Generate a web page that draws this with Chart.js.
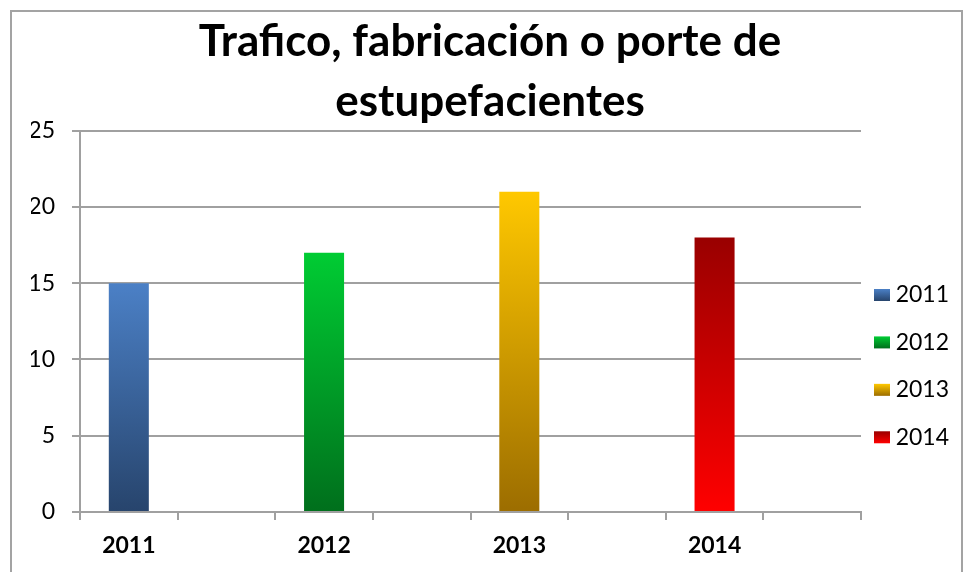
<!DOCTYPE html>
<html><head><meta charset="utf-8">
<script src="https://cdn.jsdelivr.net/npm/chart.js@4"></script>
<style>
html,body{margin:0;padding:0;background:#fff;overflow:hidden;width:963px;height:572px;}
#frame{position:absolute;left:10px;top:10px;width:949px;height:580px;border:2px solid #a3a3a3;pointer-events:none;z-index:2;}
#c{position:absolute;left:12px;top:12px;}
</style></head><body>
<div id="frame"></div>
<canvas id="c" width="937" height="560"></canvas>
<script>
const titleLines = ['Trafico, fabricación o porte de', 'estupefacientes'];
const years = ['2011', '2012', '2013', '2014'];
const values = [15, 17, 21, 18];
const topColors = ['#4b80c6', '#00cc33', '#ffc800', '#990000'];
const bottomColors = ['#27446c', '#006f1c', '#9c6d00', '#ff0000'];
const yMin = 0, yMax = 25, yStep = 5;

// each year gets its own slot followed by an empty slot
const slots = years.flatMap(y => [y, '']);

function barFill(i) {
  return (c) => {
    const chart = c.chart;
    if (c.type !== 'data' || !chart.chartArea || c.raw == null) return topColors[i];
    const ys = chart.scales.y;
    const g = chart.ctx.createLinearGradient(0, ys.getPixelForValue(c.raw), 0, ys.getPixelForValue(0));
    g.addColorStop(0, topColors[i]);
    g.addColorStop(1, bottomColors[i]);
    return g;
  };
}

const LEGEND_FONT = 23, LEGEND_BOX_H = 12;
const legendGradient = {
  id: 'legendGradient',
  beforeDraw(chart) {
    const lg = chart.legend;
    if (!lg || !lg.legendHitBoxes) return;
    lg.legendItems.forEach((it, i) => {
      const hb = lg.legendHitBoxes[i];
      if (!hb) return;
      const top = hb.top + (LEGEND_FONT - LEGEND_BOX_H) / 2;
      const g = chart.ctx.createLinearGradient(0, top, 0, top + LEGEND_BOX_H);
      g.addColorStop(0, topColors[it.datasetIndex]);
      g.addColorStop(1, bottomColors[it.datasetIndex]);
      it.fillStyle = g;
    });
  }
};

new Chart(document.getElementById('c'), {
  type: 'bar',
  data: {
    labels: slots,
    datasets: years.map((y, i) => ({
      label: y,
      data: slots.map(s => s === y ? values[i] : null),
      backgroundColor: barFill(i),
      borderWidth: 0,
      grouped: false,
      categoryPercentage: 1,
      barPercentage: 0.41
    }))
  },
  options: {
    responsive: false,
    animation: false,
    devicePixelRatio: 1,
    events: [],
    layout: { padding: { left: 19, right: 0, top: 0, bottom: 0 } },
    plugins: {
      title: {
        display: true, text: titleLines, color: '#000',
        font: { family: 'Lato', size: 44, weight: 'bold', lineHeight: 1.36 },
        padding: { top: 0, bottom: -1 }
      },
      legend: {
        position: 'right',
        maxWidth: 88,
        title: { display: true, text: ' ', font: { size: 10, lineHeight: 1 }, padding: { top: 0, bottom: 149.7 } },
        labels: {
          boxWidth: 16, boxHeight: LEGEND_BOX_H, padding: 13, color: '#000', textAlign: 'right',
          font: { family: 'Lato', size: LEGEND_FONT, lineHeight: 1.497 },
          generateLabels(chart) {
            const items = Chart.defaults.plugins.legend.labels.generateLabels(chart);
            items.forEach(it => { it.text = [it.text]; });
            return items;
          }
        }
      },
      tooltip: { enabled: false }
    },
    scales: {
      x: {
        offset: true,
        grid: { offset: true, drawOnChartArea: false, drawTicks: true, tickLength: 8, color: '#a0a0a0', lineWidth: 2 },
        border: { display: true, color: '#a0a0a0', width: 2 },
        ticks: { autoSkip: false, maxRotation: 0, minRotation: 0, padding: 12, color: '#000', font: { family: 'Lato', size: 23, weight: 'bold' } },
        afterFit(s) { s.height = 60; }
      },
      y: {
        min: yMin, max: yMax,
        ticks: { stepSize: yStep, padding: 17, color: '#000', font: { family: 'Lato', size: 23 } },
        grid: { color: '#a0a0a0', lineWidth: 2, tickLength: 8 },
        border: { color: '#a0a0a0', width: 2 },
        afterFit(s) { s.width = 49; }
      }
    }
  },
  plugins: [legendGradient]
});
</script>
</body></html>
